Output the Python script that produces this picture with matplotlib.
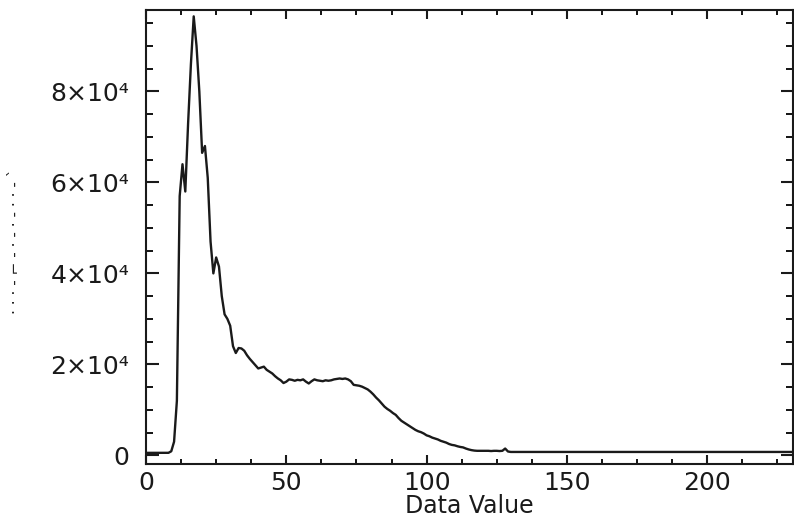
import numpy as np
import matplotlib
matplotlib.use("Agg")
import matplotlib.pyplot as plt
from matplotlib.ticker import MultipleLocator, FuncFormatter

# ---- data (histogram counts per data value) ----
data_value = list(range(0, 231))
counts = [
    550, 550, 550, 550, 550, 550, 550, 550, 560, 900,          # 0-9
    3000, 12000, 57000, 64000, 58000, 73000, 86000, 96500, 90000, 80000,  # 10-19
    66500, 68000, 61000, 47000, 40000, 43500, 41500, 35000, 31000, 30000,  # 20-29
    28500, 24000, 22500, 23600, 23500, 23000, 22000, 21200, 20500, 19800,  # 30-39
    19100, 19300, 19500, 18800, 18400, 18000, 17400, 16900, 16500, 15900,  # 40-49
    16200, 16700, 16600, 16400, 16600, 16500, 16700, 16200, 15800, 16300,  # 50-59
    16700, 16500, 16400, 16300, 16500, 16400, 16500, 16700, 16800, 16900,  # 60-69
    16800, 16900, 16700, 16300, 15500, 15400, 15300, 15100, 14800, 14500,  # 70-79
    14000, 13400, 12700, 12100, 11400, 10700, 10200, 9800, 9300, 8900,     # 80-89
    8200, 7600, 7200, 6800, 6400, 6000, 5600, 5300, 5100, 4800,           # 90-99
    4400, 4200, 3900, 3700, 3500, 3200, 3000, 2800, 2500, 2300,           # 100-109
    2200, 2000, 1850, 1750, 1500, 1300, 1150, 1050, 1000, 1000,           # 110-119
    1000, 1000, 1000, 950, 1000, 1000, 950, 1000, 1500, 850,              # 120-129
    750, 750, 750, 750, 750, 750, 750, 750, 750, 750,                     # 130-139
    750, 750, 750, 750, 750, 750, 750, 750, 750, 750,                     # 140-149
    750, 750, 750, 750, 750, 750, 750, 750, 750, 750,                     # 150-159
    750, 750, 750, 750, 750, 750, 750, 750, 750, 750,                     # 160-169
    750, 750, 750, 750, 750, 750, 750, 750, 750, 750,                     # 170-179
    750, 750, 750, 750, 750, 750, 750, 750, 750, 750,                     # 180-189
    750, 750, 750, 750, 750, 750, 750, 750, 750, 750,                     # 190-199
    750, 750, 750, 750, 750, 750, 750, 750, 750, 750,                     # 200-209
    750, 750, 750, 750, 750, 750, 750, 750, 750, 750,                     # 210-219
    750, 750, 750, 750, 750, 750, 750, 750, 750, 750,                     # 220-229
    750,                                                                  # 230
]
x_ticks = [0, 50, 100, 150, 200]
y_ticks = [0, 20000, 40000, 60000, 80000]
x_label = "Data Value"

# ---- figure ----
plt.rcParams['font.family'] = ['DejaVu Sans']
fig = plt.figure(figsize=(7.94, 5.23), dpi=100)
ax = fig.add_axes([0.1839, 0.1128, 0.8149, 0.8681])

ax.plot(data_value, counts, color='#1a1a1a', lw=1.7)

ax.set_xlim(0, 230.6)
ax.set_ylim(-1900, 97900)

ax.set_xticks(x_ticks)
ax.set_yticks(y_ticks)
ax.xaxis.set_minor_locator(MultipleLocator(12.5))
ax.yaxis.set_minor_locator(MultipleLocator(5000))

def yfmt(v, pos):
    if v == 0:
        return "0"
    return "%d×10⁴" % int(round(v / 10000))
ax.yaxis.set_major_formatter(FuncFormatter(yfmt))

for s in ax.spines.values():
    s.set_linewidth(1.5)
    s.set_color('#1a1a1a')

ax.tick_params(axis='y', which='major', direction='in', length=9, width=1.5,
               left=True, right=True, labelsize=18, pad=12, colors='#1a1a1a')
ax.tick_params(axis='y', which='minor', direction='in', length=5, width=1.3,
               left=True, right=True)
ax.tick_params(axis='x', which='major', direction='in', length=6.5, width=1.5,
               bottom=True, top=True, labelsize=18, pad=5, colors='#1a1a1a')
ax.tick_params(axis='x', which='minor', direction='in', length=3.6, width=1.3,
               bottom=True, top=True)

ax.set_xlabel(x_label, fontsize=17, labelpad=-1, color='#1a1a1a')

# faint, broken y-axis label remnant
fig.text(0.019, 0.539, "· · · - ⌐ - · - · - · · - `", rotation=90,
         fontsize=11, color='#222222', ha='center', va='center')

fig.savefig("out.png", dpi=100, facecolor='white')
